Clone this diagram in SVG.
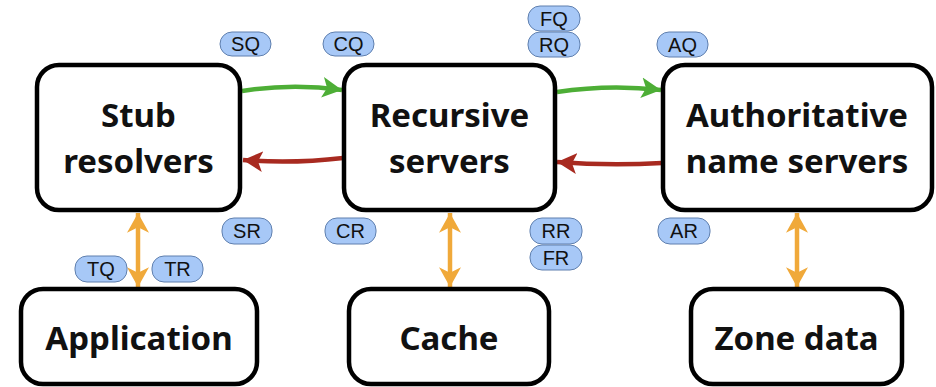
<svg xmlns="http://www.w3.org/2000/svg" width="936" height="387" viewBox="0 0 936 387">
<style>
.box{fill:#fff;stroke:#000;stroke-width:4.5}
.big{font-family:"Noto Sans","Open Sans",sans-serif;font-weight:bold;font-size:33px;fill:#111;text-anchor:middle}
.pill{fill:#a7c8f7;stroke:#5f7fae;stroke-width:1}
.pt{font-family:"Liberation Sans",Arial,sans-serif;font-size:20px;fill:#111;text-anchor:middle}
.g{fill:none;stroke:#4dae36;stroke-width:4.5}
.r{fill:none;stroke:#a82a20;stroke-width:4.5}
.o{fill:none;stroke:#f0a93a;stroke-width:4.5}
</style>
<defs>
<marker id="ag" markerUnits="userSpaceOnUse" markerWidth="22" markerHeight="22" refX="17" refY="9" orient="auto" viewBox="0 0 19 18"><path d="M0,0 L17,9 L0,18 L4,9 z" fill="#4dae36"/></marker>
<marker id="ar" markerUnits="userSpaceOnUse" markerWidth="22" markerHeight="22" refX="17" refY="9" orient="auto" viewBox="0 0 19 18"><path d="M0,0 L17,9 L0,18 L4,9 z" fill="#a82a20"/></marker>
<marker id="ao" markerUnits="userSpaceOnUse" markerWidth="22" markerHeight="22" refX="18" refY="10" orient="auto-start-reverse" viewBox="0 0 20 20"><path d="M0,0 L18,10 L0,20 L5,10 z" fill="#f0a93a"/></marker>
</defs>
<g id="connectors">
<path class="g" d="M242,91 Q292,83 342,90" marker-end="url(#ag)"/>
<path class="g" d="M557,92 Q609,84 661,90" marker-end="url(#ag)"/>
<path class="r" d="M343,158 Q292,164 243,160" marker-end="url(#ar)"/>
<path class="r" d="M662,163 Q609,166 557,162" marker-end="url(#ar)"/>
<path class="o" d="M138,213 L138,287" marker-start="url(#ao)" marker-end="url(#ao)"/>
<path class="o" d="M450,213 L450,287" marker-start="url(#ao)" marker-end="url(#ao)"/>
<path class="o" d="M797,213 L797,287" marker-start="url(#ao)" marker-end="url(#ao)"/>
</g>
<g id="stub"><rect class="box" x="37" y="65" width="203" height="145" rx="22"/><text class="big" x="138.5" y="127">Stub</text><text class="big" x="138.5" y="173">resolvers</text></g>
<g id="recursive"><rect class="box" x="344" y="65" width="211" height="145" rx="22"/><text class="big" x="449.5" y="127">Recursive</text><text class="big" x="449.5" y="173">servers</text></g>
<g id="authoritative"><rect class="box" x="663" y="65" width="269" height="145" rx="22"/><text class="big" x="797" y="127">Authoritative</text><text class="big" x="797" y="173">name servers</text></g>
<g id="application"><rect class="box" x="21" y="289" width="236" height="95" rx="22"/><text class="big" x="139" y="350">Application</text></g>
<g id="cache"><rect class="box" x="349" y="289" width="200" height="95" rx="22"/><text class="big" x="449" y="350">Cache</text></g>
<g id="zone"><rect class="box" x="691" y="289" width="211" height="95" rx="22"/><text class="big" x="796.5" y="350">Zone data</text></g>
<g id="label-SQ"><rect class="pill" x="220" y="32" width="51" height="24" rx="12"/><text class="pt" x="245.5" y="51">SQ</text></g>
<g id="label-CQ"><rect class="pill" x="323" y="32" width="51" height="24" rx="12"/><text class="pt" x="348.5" y="51">CQ</text></g>
<g id="label-FQ"><rect class="pill" x="528" y="6" width="52" height="25" rx="12"/><text class="pt" x="554" y="25.5">FQ</text></g>
<g id="label-RQ"><rect class="pill" x="528" y="32" width="52" height="25" rx="12"/><text class="pt" x="554" y="51.5">RQ</text></g>
<g id="label-AQ"><rect class="pill" x="657" y="32" width="51" height="25" rx="12"/><text class="pt" x="682.5" y="51.5">AQ</text></g>
<g id="label-SR"><rect class="pill" x="222" y="218" width="50" height="26" rx="12"/><text class="pt" x="247" y="238">SR</text></g>
<g id="label-CR"><rect class="pill" x="325" y="218" width="51" height="26" rx="12"/><text class="pt" x="350.5" y="238">CR</text></g>
<g id="label-RR"><rect class="pill" x="530" y="218" width="52" height="26" rx="12"/><text class="pt" x="556" y="238">RR</text></g>
<g id="label-FR"><rect class="pill" x="530" y="245" width="52" height="25" rx="12"/><text class="pt" x="556" y="264.5">FR</text></g>
<g id="label-AR"><rect class="pill" x="658" y="218" width="52" height="26" rx="12"/><text class="pt" x="684" y="238">AR</text></g>
<g id="label-TQ"><rect class="pill" x="75" y="256" width="52" height="26" rx="12"/><text class="pt" x="101" y="276">TQ</text></g>
<g id="label-TR"><rect class="pill" x="152" y="256" width="51" height="26" rx="12"/><text class="pt" x="177.5" y="276">TR</text></g>
</svg>
